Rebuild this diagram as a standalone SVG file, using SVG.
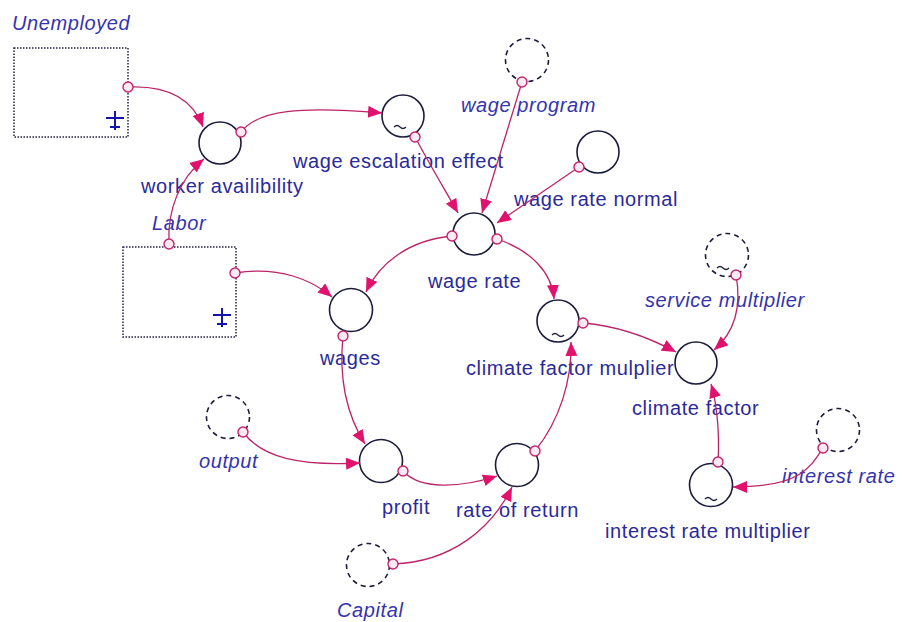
<svg xmlns="http://www.w3.org/2000/svg" width="902" height="622" viewBox="0 0 902 622">
<defs>
<marker id="ah" markerWidth="15" markerHeight="13" refX="14" refY="6" orient="auto" markerUnits="userSpaceOnUse">
<path d="M0,0 L14,6 L0,12 z" fill="#e0126e"/>
</marker>
<style>
.lbl{font-family:"Liberation Sans",Arial,sans-serif;font-size:20px;fill:#2a2a9a;letter-spacing:0.6px}
.it{font-style:italic;fill:#3434ae}
.stock{fill:#fff;stroke:#202048;stroke-width:1.5;stroke-dasharray:1.5 1.5}
.aux{fill:#fff;stroke:#1c1c3c;stroke-width:1.6}
.ghost{fill:#fff;stroke:#1c1c3c;stroke-width:1.6;stroke-dasharray:5 4}
.link{fill:none;stroke:#bc2468;stroke-width:1.3;marker-end:url(#ah)}
.src{fill:#fde9f1;stroke:#c4246e;stroke-width:1.4}
.tk{stroke:#c4246e;stroke-width:1}
.tl{fill:none;stroke:#1c1c3c;stroke-width:1.3}
.cloud{stroke:#1414a8;stroke-width:2;fill:none}
</style>
</defs>
<rect width="902" height="622" fill="#fff"/>

<g id="Unemployed">
<rect class="stock" x="14" y="48" width="114" height="89"/>
<path class="cloud" d="M115,111 V130 M106,118 H124 M110,127 H120"/>
<text class="lbl it" x="12" y="30">Unemployed</text>
</g>
<g id="Labor">
<rect class="stock" x="123" y="247" width="113" height="90"/>
<path class="cloud" d="M222,308 V327 M213,315 H231 M217,324 H227"/>
<text class="lbl it" x="152" y="230">Labor</text>
</g>
<g id="worker_availibility">
<circle class="aux" cx="220" cy="143" r="21"/>
<text class="lbl" x="141" y="193">worker availibility</text>
</g>
<g id="wage_escalation_effect">
<circle class="aux" cx="403" cy="116" r="21"/>
<path class="tl" d="M394,127 q3,-3 6,0 t6,0"/>
<text class="lbl" x="293" y="168">wage escalation effect</text>
</g>
<g id="wage_program">
<circle class="ghost" cx="527" cy="60" r="21.5"/>
<text class="lbl it" x="461" y="112">wage program</text>
</g>
<g id="wage_rate_normal">
<circle class="aux" cx="598" cy="152" r="21"/>
<text class="lbl" x="514" y="206">wage rate normal</text>
</g>
<g id="wage_rate">
<circle class="aux" cx="474" cy="234" r="21"/>
<text class="lbl" x="428" y="288">wage rate</text>
</g>
<g id="wages">
<circle class="aux" cx="351" cy="310" r="21.5"/>
<text class="lbl" x="320" y="365">wages</text>
</g>
<g id="climate_factor_mulplier">
<circle class="aux" cx="558" cy="321" r="21"/>
<path class="tl" d="M552,335 q3,-3 6,0 t6,0"/>
<text class="lbl" x="466" y="375">climate factor mulplier</text>
</g>
<g id="service_multiplier">
<circle class="ghost" cx="727" cy="255" r="21.5"/>
<path class="tl" d="M717,268 q3,-3 6,0 t6,0"/>
<text class="lbl it" x="645" y="307">service multiplier</text>
</g>
<g id="climate_factor">
<circle class="aux" cx="696" cy="363" r="21"/>
<text class="lbl" x="632" y="415">climate factor</text>
</g>
<g id="interest_rate_multiplier">
<circle class="aux" cx="711" cy="485" r="21.5"/>
<path class="tl" d="M705,499 q3,-3 6,0 t6,0"/>
<text class="lbl" x="605" y="538">interest rate multiplier</text>
</g>
<g id="interest_rate">
<circle class="ghost" cx="838" cy="430" r="21.5"/>
<text class="lbl it" x="782" y="483">interest rate</text>
</g>
<g id="output">
<circle class="ghost" cx="228" cy="417" r="21.5"/>
<text class="lbl it" x="199" y="468">output</text>
</g>
<g id="profit">
<circle class="aux" cx="381" cy="461" r="21.5"/>
<text class="lbl" x="382" y="514">profit</text>
</g>
<g id="rate_of_return">
<circle class="aux" cx="517" cy="465" r="21.5"/>
<text class="lbl" x="456" y="517">rate of return</text>
</g>
<g id="Capital">
<circle class="ghost" cx="368" cy="565" r="21.5"/>
<text class="lbl it" x="337" y="617">Capital</text>
</g>

<g id="connectors">
<path class="link" d="M128,87 C175,85 195,105 203,127"/>
<path class="link" d="M169,244 C167,210 180,178 204,159"/>
<path class="link" d="M241,132 C258,110 300,106 382,113"/>
<path class="link" d="M415,137 C430,165 445,190 458,213"/>
<path class="link" d="M522,82 L482,213"/>
<path class="link" d="M579,167 L497,223"/>
<path class="link" d="M452,236 C410,240 380,262 366,292"/>
<path class="link" d="M235,273 C280,266 312,280 332,297"/>
<path class="link" d="M497,239 C530,250 552,272 554,299"/>
<path class="link" d="M583,323 C620,326 650,338 676,352"/>
<path class="link" d="M736,275 C742,308 735,332 714,350"/>
<path class="link" d="M718,462 C720,430 716,400 711,384"/>
<path class="link" d="M823,448 C810,468 800,487 733,487"/>
<path class="link" d="M343,336 C338,385 350,420 365,444"/>
<path class="link" d="M243,432 C262,458 300,466 360,463"/>
<path class="link" d="M403,471 C420,490 460,488 497,476"/>
<path class="link" d="M535,451 C560,420 572,380 571,342"/>
<path class="link" d="M393,564 C452,562 492,528 512,487"/>
<g id="sources">
<circle class="src" cx="128" cy="87" r="5"/>
<circle class="src" cx="169" cy="244" r="5"/>
<circle class="src" cx="241" cy="132" r="5"/>
<circle class="src" cx="415" cy="137" r="5"/>
<circle class="src" cx="522" cy="82" r="5"/>
<circle class="src" cx="579" cy="167" r="5"/>
<circle class="src" cx="452" cy="236" r="5"/>
<circle class="src" cx="235" cy="273" r="5"/>
<circle class="src" cx="497" cy="239" r="5"/>
<circle class="src" cx="583" cy="323" r="5"/>
<circle class="src" cx="736" cy="275" r="5"/>
<circle class="src" cx="718" cy="462" r="5"/>
<circle class="src" cx="823" cy="448" r="5"/>
<circle class="src" cx="343" cy="336" r="5"/>
<circle class="src" cx="243" cy="432" r="5"/>
<circle class="src" cx="403" cy="471" r="5"/>
<circle class="src" cx="535" cy="451" r="5"/>
<circle class="src" cx="393" cy="564" r="5"/>
</g>
</g>
</svg>
